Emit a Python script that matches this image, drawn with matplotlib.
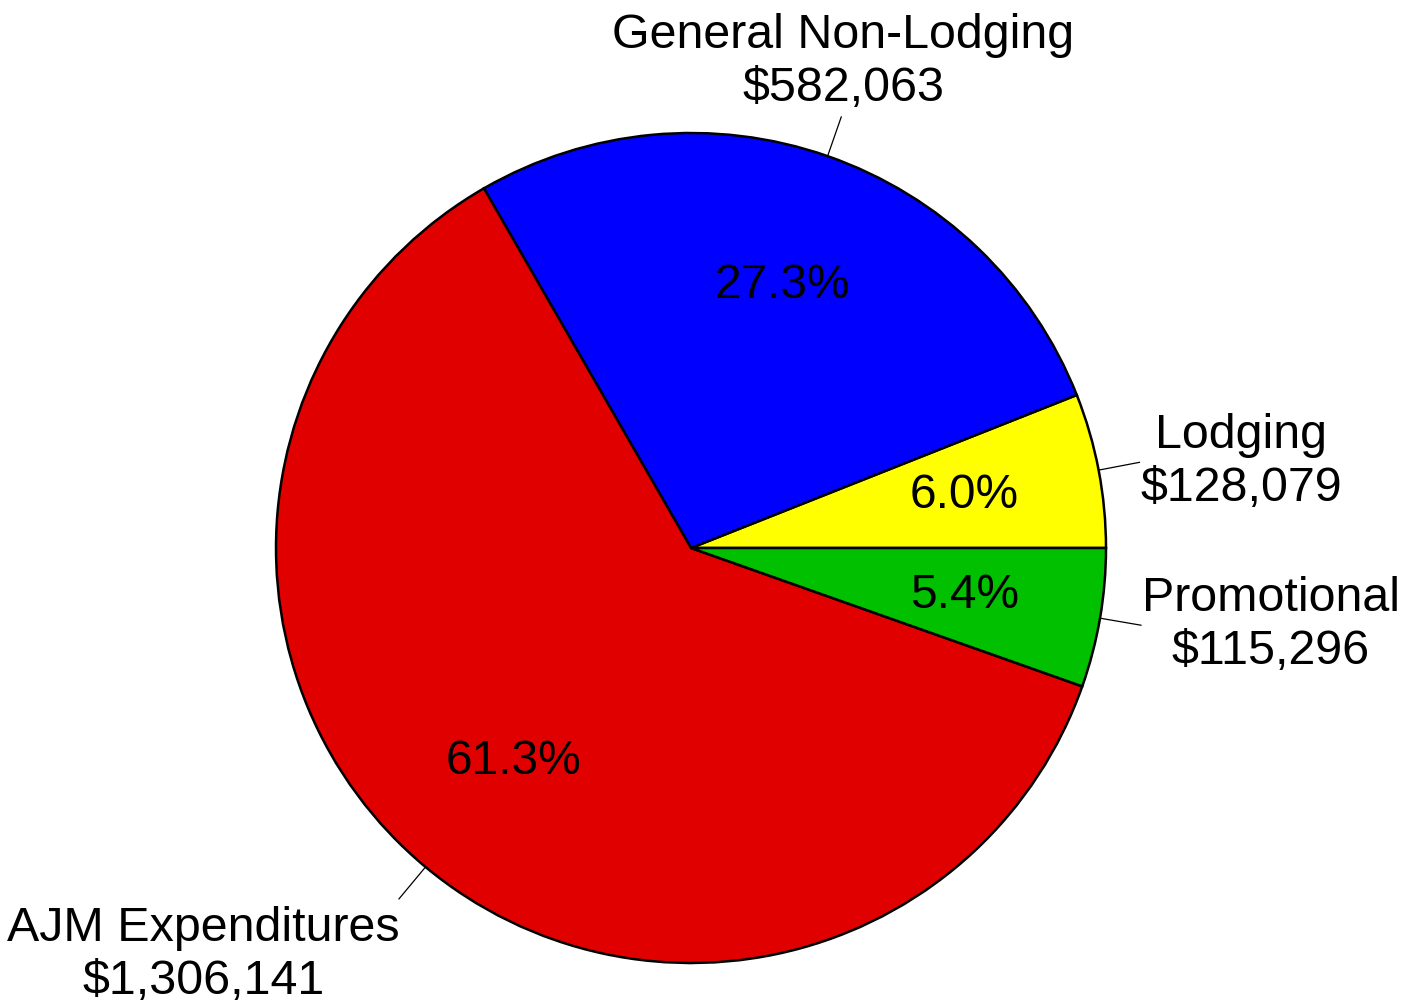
import numpy as np
import matplotlib
matplotlib.use("Agg")
import matplotlib.pyplot as plt

plt.rcParams['font.family'] = ['Liberation Sans', 'DejaVu Sans']

categories = ["Lodging", "General Non-Lodging", "AJM Expenditures", "Promotional"]
values = [128079, 582063, 1306141, 115296]
value_labels = ["$128,079", "$582,063", "$1,306,141", "$115,296"]
colors = ["#FFFF00", "#0000FF", "#E00000", "#00C000"]

fig = plt.figure(figsize=(14.14, 10.05), dpi=100)
ax = fig.add_axes([0, 0, 1, 1])
R = 415.0
cx, cy = 691.0, 548.0
W, H = 1414.0, 1005.0

wedges, texts, autotexts = ax.pie(
    values, colors=colors, startangle=0, counterclock=True,
    autopct='%1.1f%%', pctdistance=0.67,
    wedgeprops=dict(edgecolor='black', linewidth=1.8),
    textprops=dict(fontsize=34.5, color='black'))

ax.set_xlim(-cx / R, (W - cx) / R)
ax.set_ylim(-(H - cy) / R, cy / R)
ax.set_aspect('auto')
ax.axis('off')

# label placement per slice: (ha, va, dx, dy) offsets in radius units
styles = {
    "Lodging": ("left", "center", 0.002, 0.0),
    "General Non-Lodging": ("center", "bottom", 0.0, 0.0),
    "AJM Expenditures": ("right", "top", 0.012, -0.006),
    "Promotional": ("left", "center", 0.002, 0.0),
}
for w, cat, vl in zip(wedges, categories, value_labels):
    ang = np.deg2rad((w.theta1 + w.theta2) / 2)
    c, s = np.cos(ang), np.sin(ang)
    ax.plot([c * 1.0, c * 1.1], [s * 1.0, s * 1.1], color='black', lw=0.9)
    ha, va, dx, dy = styles[cat]
    r_t = 1.1 if va == 'center' else 1.115
    tx, ty = c * r_t + dx, s * r_t + dy
    ax.text(tx, ty, f"{cat}\n{vl}", ha=ha, va=va, multialignment='center',
            fontsize=34.8, linespacing=1.22)

fig.savefig("out.png", dpi=100)
